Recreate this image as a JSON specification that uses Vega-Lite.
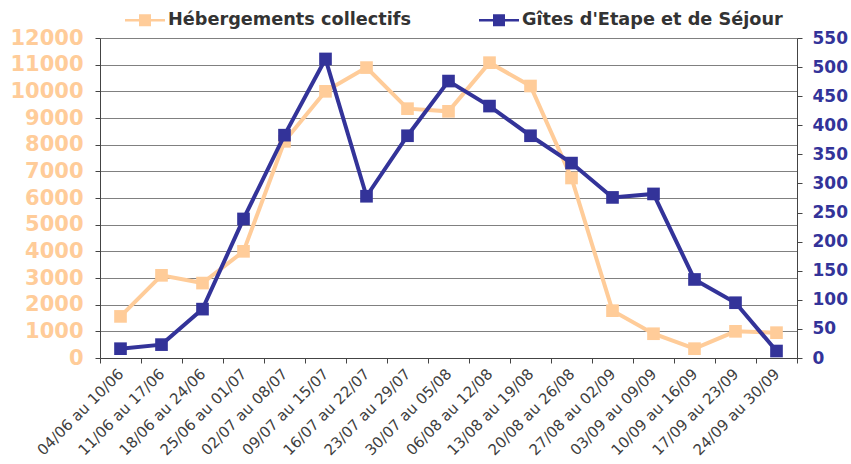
{
  "$schema": "https://vega.github.io/schema/vega-lite/v6.json",
  "width": 697,
  "height": 320,
  "autosize": "none",
  "padding": {"left": 100, "top": 38, "right": 54, "bottom": 106},
  "background": "white",
  "config": {"view": {"stroke": null}, "font": "DejaVu Sans"},
  "data": {"values": [
    {"week": "04/06 au 10/06", "heb": 1560, "gites": 16},
    {"week": "11/06 au 17/06", "heb": 3100, "gites": 23},
    {"week": "18/06 au 24/06", "heb": 2810, "gites": 84},
    {"week": "25/06 au 01/07", "heb": 4000, "gites": 239},
    {"week": "02/07 au 08/07", "heb": 8125, "gites": 383},
    {"week": "09/07 au 15/07", "heb": 10000, "gites": 514},
    {"week": "16/07 au 22/07", "heb": 10890, "gites": 278},
    {"week": "23/07 au 29/07", "heb": 9350, "gites": 382},
    {"week": "30/07 au 05/08", "heb": 9250, "gites": 476},
    {"week": "06/08 au 12/08", "heb": 11075, "gites": 433},
    {"week": "13/08 au 19/08", "heb": 10200, "gites": 382},
    {"week": "20/08 au 26/08", "heb": 6750, "gites": 335},
    {"week": "27/08 au 02/09", "heb": 1775, "gites": 276},
    {"week": "03/09 au 09/09", "heb": 910, "gites": 282},
    {"week": "10/09 au 16/09", "heb": 350, "gites": 135},
    {"week": "17/09 au 23/09", "heb": 1000, "gites": 95},
    {"week": "24/09 au 30/09", "heb": 950, "gites": 12}
  ]},
  "encoding": {
    "x": {
      "field": "week", "type": "ordinal", "sort": null,
      "scale": {"type": "band", "paddingInner": 0, "paddingOuter": 0},
      "axis": {
        "title": null, "labelAngle": -45, "labelAlign": "right", "labelBaseline": "middle",
        "tickBand": "extent", "tickSize": 5, "tickColor": "#444", "domainColor": "#444",
        "labelFontSize": 15, "labelColor": "#404040", "labelPadding": 8, "labelDx": -14, "labelLimit": 200
      }
    },
    "color": {
      "datum": "Hébergements collectifs",
      "scale": {"domain": ["Hébergements collectifs", "Gîtes d'Etape et de Séjour"], "range": ["#FFCC99", "#333399"]},
      "legend": {
        "title": null, "orient": "none", "direction": "horizontal",
        "legendX": 25, "legendY": -38, "padding": 0,
        "symbolType": "M-1,-0.0625H1V0.0625H-1Z M-0.3,-0.3H0.3V0.3H-0.3Z",
        "symbolSize": 1600, "symbolStrokeWidth": 0,
        "labelFont": "DejaVu Sans", "labelFontWeight": "bold", "labelFontSize": 17.7, "labelColor": "#333333",
        "labelLimit": 400, "labelOffset": 3, "columnPadding": 68,
        "encode": {"symbols": {"update": {"fill": {"scale": "color", "field": "value"}, "fillOpacity": {"value": 1}, "stroke": {"value": "transparent"}}}}
      }
    }
  },
  "layer": [
    {
      "mark": {"type": "line", "strokeWidth": 4, "point": {"shape": "square", "size": 160, "filled": true, "opacity": 1}},
      "encoding": {
        "y": {
          "field": "heb", "type": "quantitative",
          "scale": {"domain": [0, 12000], "nice": false},
          "axis": {
            "title": null, "orient": "left", "values": [0,1000,2000,3000,4000,5000,6000,7000,8000,9000,10000,11000,12000],
            "grid": true, "gridColor": "#808080", "gridWidth": 1, "tickSize": 5, "tickColor": "#444", "domainColor": "#444",
            "labelFontSize": 21, "labelFontWeight": "bold", "labelColor": "#FFCC99", "labelPadding": 12, "format": "d"
          }
        },
        "color": {"datum": "Hébergements collectifs"}
      }
    },
    {
      "mark": {"type": "line", "strokeWidth": 4, "point": {"shape": "square", "size": 160, "filled": true, "opacity": 1}},
      "encoding": {
        "y": {
          "field": "gites", "type": "quantitative",
          "scale": {"domain": [0, 550], "nice": false},
          "axis": {
            "title": null, "orient": "right", "values": [0,50,100,150,200,250,300,350,400,450,500,550],
            "grid": false, "tickSize": 5, "tickColor": "#444", "domainColor": "#444",
            "labelFontSize": 17, "labelFontWeight": "bold", "labelColor": "#333399", "labelPadding": 10
          }
        },
        "color": {"datum": "Gîtes d'Etape et de Séjour"}
      }
    }
  ],
  "resolve": {"scale": {"y": "independent"}}
}
